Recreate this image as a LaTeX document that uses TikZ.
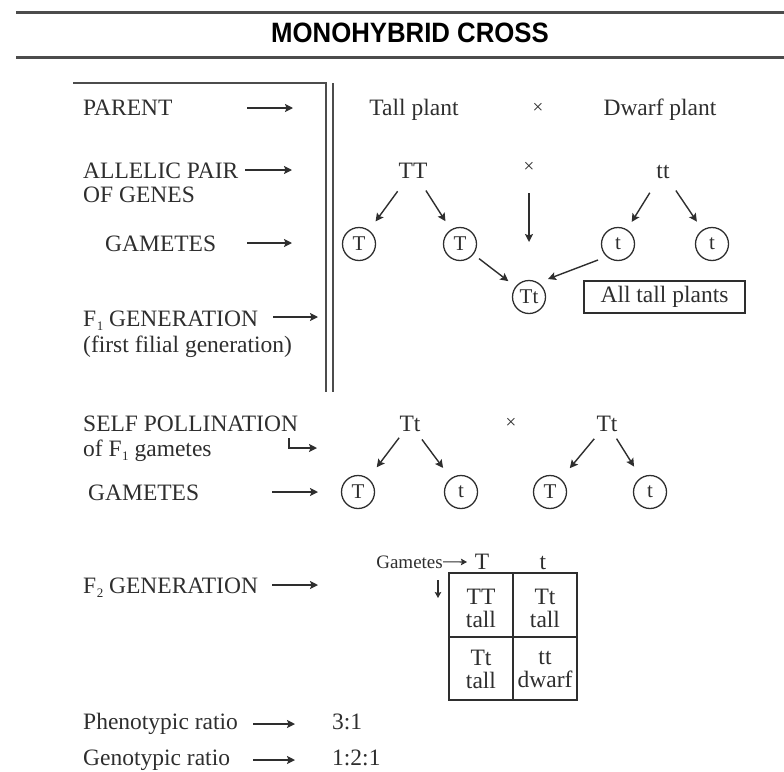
\documentclass[tikz,border=0pt]{standalone}
\usepackage{fontspec}
\setmainfont{Liberation Serif}
\newfontfamily\ttlfont{Liberation Sans}
\usetikzlibrary{arrows.meta,calc}
\newcommand\mainsz{\fontsize{23.5}{23}\selectfont}
\newcommand\gamsz{\fontsize{21}{21}\selectfont}
\newcommand\smsz{\fontsize{19}{19}\selectfont}
\newcommand\lowsub[1]{\kern0.5pt\raisebox{-4pt}{\fontsize{13}{13}\selectfont #1}}
\definecolor{ink}{gray}{0.18}
\definecolor{rulecol}{gray}{0.3}
\tikzset{
  lbl/.style={inner sep=0pt, anchor=base west, font=\mainsz, text=ink},
  ctr/.style={inner sep=0pt, anchor=base, font=\mainsz, text=ink},
  crossmark/.style={inner sep=0pt, font=\fontsize{19}{19}\selectfont, text=ink},
  gam/.style={circle, draw=ink, line width=1.3pt, minimum size=33pt, inner sep=0pt, font=\gamsz, text=ink},
  arr/.style={draw=ink, line width=1.4pt, -{Stealth[length=8pt,width=8pt,inset=1.5pt]}},
  arrsm/.style={draw=ink, line width=1.1pt, -{Stealth[length=6pt,width=6.5pt,inset=1pt]}},
  rulebar/.style={draw=rulecol, line width=3pt},
  framel/.style={draw=rulecol, line width=1.6pt},
  cell/.style={inner sep=0pt, align=center, font=\mainsz, text=ink},
  boxnode/.style={draw=ink, line width=1.4pt, minimum width=161pt, minimum height=32pt, inner sep=0pt, font=\mainsz, text=ink}
}
\begin{document}
\begin{tikzpicture}[x=1pt,y=-1pt]
\useasboundingbox (0,0) rectangle (784,771);
% title and rules
\draw[rulebar] (16,12) -- (784,12);
\draw[rulebar] (16,57) -- (784,57);
\node[inner sep=0pt, font={\ttlfont\bfseries\fontsize{28}{30}\selectfont}] (title) at (410,33) {\scalebox{0.92}[1]{MONOHYBRID CROSS}};
% frame
\draw[framel] (73,83) -- (326,83) -- (326,392);
\draw[framel] (333,83) -- (333,392);
% left labels upper
\node[lbl] (parent) at (83,115) {PARENT};
\node[lbl] (allelic) at (83,178) {ALLELIC PAIR};
\node[lbl] (ofgenes) at (83,202) {OF GENES};
\node[lbl] (gam1) at (105,251) {GAMETES};
\node[lbl] (f1gen) at (83,326) {F\lowsub{1} GENERATION};
\node[lbl] (filial) at (83,352) {(first filial generation)};
\coordinate (pa1) at (247,108); \coordinate (pa2) at (293,108);
\coordinate (aa1) at (245,170); \coordinate (aa2) at (292,170);
\coordinate (ga1) at (247,243); \coordinate (ga2) at (292,243);
\coordinate (fa1) at (273,317); \coordinate (fa2) at (318,317);
\draw[arr] (pa1) -- (pa2);
\draw[arr] (aa1) -- (aa2);
\draw[arr] (ga1) -- (ga2);
\draw[arr] (fa1) -- (fa2);
% upper right
\node[ctr] (tall) at (414,115) {Tall plant};
\node[crossmark] (x1) at (538,108) {×};
\node[ctr] (dwarf) at (660,115) {Dwarf plant};
\node[ctr] (TT) at (413,178) {TT};
\node[crossmark] (x2) at (529,167) {×};
\node[ctr] (tt) at (663,178) {tt};
\node[gam] (T1) at (359,244) {T};
\node[gam] (T2) at (460,244) {T};
\node[gam] (t1) at (618,244) {t};
\node[gam] (t2) at (712,244) {t};
\node[gam] (Tt) at (529,297) {Tt};
\node[boxnode] (alltall) at (664.5,297) {All tall plants};
\draw[arr, shorten <=26pt, shorten >=28pt] (TT.center) -- (T1.center);
\draw[arr, shorten <=24pt, shorten >=27pt] (TT.center) -- (T2.center);
\draw[arr, shorten <=25pt, shorten >=26pt] (tt.center) -- (t1.center);
\draw[arr, shorten <=23pt, shorten >=27pt] (tt.center) -- (t2.center);
\coordinate (xdown) at (529,242);
\draw[arr, shorten <=26pt] (x2.center) -- (xdown);
\draw[arr, shorten <=24pt, shorten >=26pt] (T2.center) -- (Tt.center);
\coordinate (t1out) at ($(t1)+(-20,16)$);
\coordinate (Ttin) at ($(Tt)+(19,-18)$);
\draw[arr] (t1out) -- (Ttin);
% self pollination
\node[lbl] (selfpol) at (83,431) {SELF POLLINATION};
\node[lbl] (ofF1) at (83,456) {of F\lowsub{1} gametes};
\coordinate (hk1) at (289,438); \coordinate (hk2) at (289,448); \coordinate (hk3) at (317,448);
\draw[arr] (hk1) -- (hk2) -- (hk3);
\node[ctr] (TtL) at (410,431) {Tt};
\node[crossmark] (x3) at (511,423) {×};
\node[ctr] (TtR) at (607,431) {Tt};
\node[lbl] (gam2) at (88,500) {GAMETES};
\coordinate (g2a1) at (272,492); \coordinate (g2a2) at (318,492);
\draw[arr] (g2a1) -- (g2a2);
\node[gam] (G1) at (358,492) {T};
\node[gam] (G2) at (461,492) {t};
\node[gam] (G3) at (550,492) {T};
\node[gam] (G4) at (650,492) {t};
\draw[arr, shorten <=18pt, shorten >=31pt] (TtL.center) -- (G1.center);
\draw[arr, shorten <=20pt, shorten >=30pt] (TtL.center) -- (G2.center);
\draw[arr, shorten <=20pt, shorten >=31pt] (TtR.center) -- (G3.center);
\draw[arr, shorten <=18pt, shorten >=30pt] (TtR.center) -- (G4.center);
% F2 generation
\node[lbl] (f2gen) at (83,593) {F\lowsub{2} GENERATION};
\coordinate (f2a1) at (272,585); \coordinate (f2a2) at (318,585);
\draw[arr] (f2a1) -- (f2a2);
\node[inner sep=0pt, anchor=base east, font=\smsz, text=ink] (gtxt) at (443,568) {Gametes};
\coordinate (gtend) at (467,562);
\draw[arrsm] (gtxt.east) -- (gtend);
\node[ctr] (hT) at (482,569) {T};
\node[ctr] (ht) at (543,569) {t};
\coordinate (da1) at (438,580); \coordinate (da2) at (438,598);
\draw[arrsm] (da1) -- (da2);
\draw[draw=ink, line width=1.8pt] (449,573) rectangle (577,700);
\draw[draw=ink, line width=1.8pt] (513,573) -- (513,700);
\draw[draw=ink, line width=1.8pt] (449,637) -- (577,637);
\node[cell] (c11) at (481,608) {TT\\tall};
\node[cell] (c12) at (545,608) {Tt\\tall};
\node[cell] (c21) at (481,669) {Tt\\tall};
\node[cell] (c22) at (545,669) {tt\\dwarf};
% ratios
\node[lbl] (pheno) at (83,729) {Phenotypic ratio};
\coordinate (ph1) at (253,724); \coordinate (ph2) at (295,724);
\draw[arr] (ph1) -- (ph2);
\node[lbl] (phr) at (332,729) {3:1};
\node[lbl] (geno) at (83,765) {Genotypic ratio};
\coordinate (ge1) at (253,760); \coordinate (ge2) at (295,760);
\draw[arr] (ge1) -- (ge2);
\node[lbl] (ger) at (332,765) {1:2:1};
\end{tikzpicture}
\end{document}
